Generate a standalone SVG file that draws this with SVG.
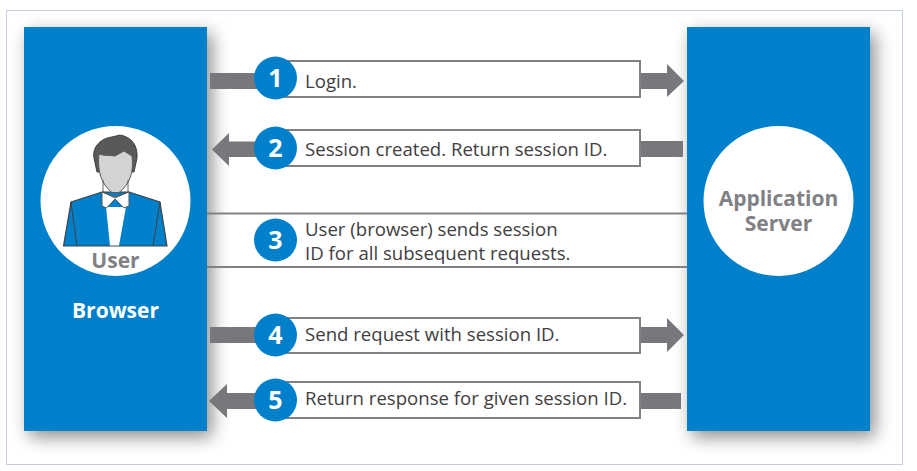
<svg xmlns="http://www.w3.org/2000/svg" width="917" height="471" viewBox="0 0 917 471">
<defs>
<filter id="sh" x="-30%" y="-15%" width="160%" height="130%"><feGaussianBlur stdDeviation="9"/></filter>
</defs>
<style>
.panel{fill:#0080cb}
.shadow{fill:#000;opacity:.45;filter:url(#sh)}
.box{fill:#fff;stroke:#808184;stroke-width:2}
.line{stroke:#808184;stroke-width:2;fill:none}
.arr{fill:#77787b}
.badge{fill:#0080cb}
.num{font:700 25px "Open Sans","Noto Sans",sans-serif;fill:#fff;text-anchor:middle}
.t{font:400 18.600px "Open Sans","Noto Sans",sans-serif;fill:#414042}
.lbl{font:700 21px "Open Sans","Noto Sans",sans-serif;text-anchor:middle}
</style>
<rect width="917" height="471" fill="#fff"/>
<rect x="6.500" y="10.500" width="896" height="454" fill="#fff" stroke="#c3cddb"/>
<g id="browser">
<rect class="shadow" x="29" y="33" width="183" height="404"/>
<rect class="panel" x="24" y="27" width="183" height="404"/>
<circle cx="115.500" cy="201" r="75" fill="#fff"/>
<g id="user-figure" stroke-linejoin="round">
<path d="M63.500 246L71 202L102 192L129 192L160 202L167 246Z" fill="#0080cb" stroke="#414042" stroke-width="1.200"/>
<path d="M71 202L77 246M160 202L153 246" fill="none" stroke="#414042"/>
<path d="M106 207L126 207L119 245.500H110Z" fill="#fff"/>
<path d="M102 192V206L106.500 208L115 199L124 208L129 206V192L115 197Z" fill="#fff" stroke="#58595b"/>
<path d="M94 158C92 146 102 138 112 137L120 135C132 137 138 146 137 158L134 172H97Z" fill="#58595b" stroke="#414042"/>
<path d="M99 154C104 156 110 155 115 156L124 151L132 156C134 172 130 184 119 192.500H112C101 184 97 170 99 154Z" fill="#d1d3d4" stroke="#58595b"/>
<path d="M103 180V192L115 198L128 192V180" fill="none" stroke="#414042" stroke-width=".8"/>
</g>
<text class="lbl" x="115.500" y="268" fill="#808184">User</text>
<text class="lbl" x="115.500" y="318" fill="#fff">Browser</text>
</g>
<g id="server">
<rect class="shadow" x="692" y="33" width="183" height="404"/>
<rect class="panel" x="687" y="27" width="183" height="404"/>
<circle cx="778.500" cy="201" r="75" fill="#fff"/>
<text class="lbl" x="778.500" y="206" fill="#808184">Application</text>
<text class="lbl" x="778.500" y="231" fill="#808184">Server</text>
</g>
<g id="connectors">
<rect class="arr" x="210" y="73" width="51" height="16"/>
<path class="arr" d="M640 73H667V64L684 81L667 97V89H640Z"/>
<path class="arr" d="M212 149.500L229 133V141.500H262V157H229V166Z"/>
<rect class="arr" x="639" y="141" width="44" height="16"/>
<path class="line" d="M207 213.500H687M207 267H687"/>
<rect class="arr" x="210" y="327" width="51" height="16"/>
<path class="arr" d="M640 327H667V318L684 335L667 352V343H640Z"/>
<path class="arr" d="M209 401L227 384V393H262V409H227V418Z"/>
<rect class="arr" x="639" y="393" width="42" height="16"/>
</g>
<g id="step1"><rect class="box" x="275" y="61" width="365" height="36"/><circle class="badge" cx="275.500" cy="78" r="21.500"/><text class="num" x="275.500" y="87">1</text><text class="t" x="305" y="88">Login.</text></g>
<g id="step2"><rect class="box" x="275" y="130" width="365" height="36"/><circle class="badge" cx="275.500" cy="148" r="21.500"/><text class="num" x="275.500" y="157">2</text><text class="t" x="305" y="156">Session created. Return session ID.</text></g>
<g id="step3"><circle class="badge" cx="275.500" cy="240" r="21.500"/><text class="num" x="275.500" y="249">3</text><text class="t" x="305" y="236">User (browser) sends session</text><text class="t" x="305" y="260">ID for all subsequent requests.</text></g>
<g id="step4"><rect class="box" x="275" y="318" width="365" height="35"/><circle class="badge" cx="275.500" cy="335" r="21.500"/><text class="num" x="275.500" y="344">4</text><text class="t" x="305" y="341">Send request with session ID.</text></g>
<g id="step5"><rect class="box" x="275" y="382" width="365" height="36"/><circle class="badge" cx="275.500" cy="400" r="21.500"/><text class="num" x="275.500" y="409">5</text><text class="t" x="305" y="405">Return response for given session ID.</text></g>
</svg>
